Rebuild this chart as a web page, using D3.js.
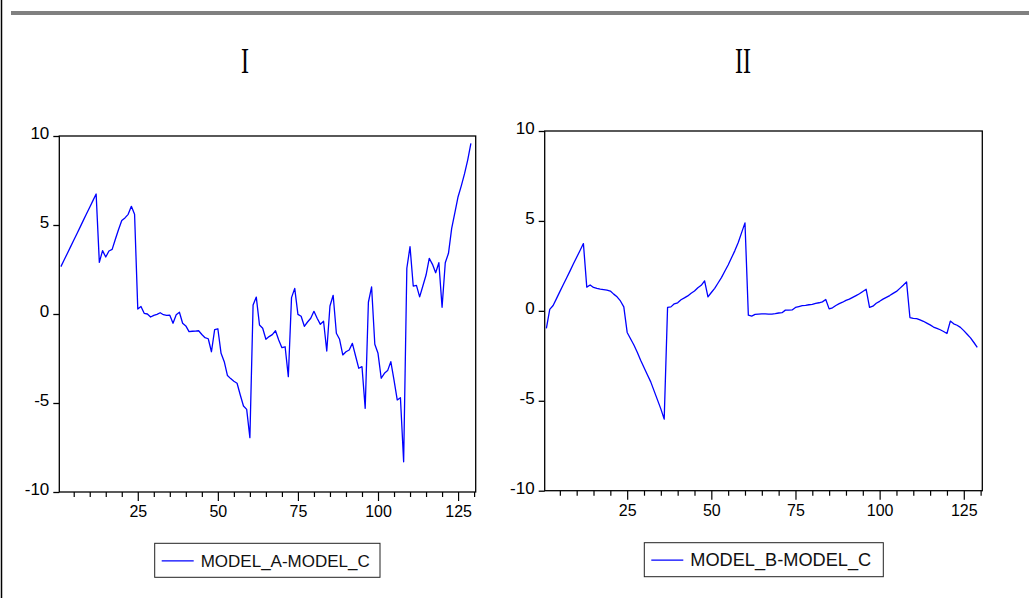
<!DOCTYPE html>
<html>
<head>
<meta charset="utf-8">
<script src="https://cdn.jsdelivr.net/npm/d3@7"></script>
<style>
body { margin: 0; background: #fff; }
svg { display: block; }
.tick text { font-family: "Liberation Sans", Arial, sans-serif; }
</style>
</head>
<body>
<svg id="chart" width="1029" height="598"></svg>
<script>
var width = 1029;
var height = 598;

// series I: MODEL_A-MODEL_C, obs 1..129
var seriesA = [
    2.66, 3.03, 3.40, 3.77, 4.14, 4.51, 4.88, 5.26, 5.63, 6.00,
    6.37, 6.74, 2.90, 3.56, 3.20, 3.54, 3.63, 4.20, 4.75, 5.25,
    5.40, 5.60, 6.05, 5.60, 0.28, 0.42, 0.04, 0.00, -0.17, -0.08,
    -0.02, 0.07, -0.04, -0.08, -0.07, -0.52, -0.04, 0.10, -0.52, -0.67,
    -0.99, -0.97, -0.96, -0.94, -1.15, -1.33, -1.39, -2.12, -0.88, -0.83,
    -2.21, -2.68, -3.46, -3.63, -3.78, -3.89, -4.55, -5.17, -5.36, -6.95,
    0.51, 0.95, -0.62, -0.80, -1.42, -1.27, -1.16, -0.94, -1.46, -1.89,
    -1.84, -3.52, 0.92, 1.44, -0.02, -0.13, -0.69, -0.45, -0.24, 0.15,
    -0.24, -0.58, -0.41, -2.08, 0.45, 1.05, -1.08, -1.42, -2.30, -2.12,
    -2.02, -1.65, -2.36, -3.05, -2.96, -5.30, 0.66, 1.52, -1.70, -2.21,
    -3.61, -3.33, -3.18, -2.68, -3.71, -4.83, -4.70, -8.30, 2.57, 3.78,
    1.57, 1.61, 0.96, 1.57, 2.19, 3.13, 2.79, 2.32, 2.88, 0.38,
    2.88, 3.41, 4.81, 5.70, 6.59, 7.20, 7.87, 8.65, 9.59
];

// series II: MODEL_B-MODEL_C, obs 1..129
var seriesB = [
    -0.98, 0.08, 0.30, 0.68, 1.07, 1.45, 1.83, 2.21, 2.60, 2.98,
    3.36, 3.74, 1.32, 1.44, 1.30, 1.25, 1.21, 1.18, 1.15, 1.10,
    0.93, 0.78, 0.55, 0.22, -1.20, -1.55, -1.90, -2.30, -2.75, -3.15,
    -3.55, -3.95, -4.45, -4.95, -5.45, -6.02, 0.19, 0.22, 0.39, 0.45,
    0.62, 0.72, 0.83, 0.98, 1.10, 1.28, 1.42, 1.67, 0.78, 1.02,
    1.25, 1.55, 1.85, 2.20, 2.55, 2.95, 3.35, 3.80, 4.35, 4.89,
    -0.24, -0.29, -0.20, -0.18, -0.17, -0.17, -0.18, -0.18, -0.16, -0.12,
    -0.10, 0.04, 0.04, 0.05, 0.19, 0.24, 0.29, 0.31, 0.34, 0.36,
    0.42, 0.45, 0.50, 0.63, 0.11, 0.17, 0.30, 0.40, 0.48, 0.58,
    0.65, 0.75, 0.85, 0.95, 1.08, 1.20, 0.19, 0.26, 0.42, 0.53,
    0.65, 0.75, 0.85, 0.97, 1.08, 1.25, 1.42, 1.61, -0.37, -0.42,
    -0.43, -0.50, -0.58, -0.68, -0.78, -0.90, -0.97, -1.05, -1.15, -1.26,
    -0.57, -0.72, -0.80, -0.92, -1.10, -1.30, -1.50, -1.76, -2.03
];

var yTicks = [-10, -5, 0, 5, 10];
var xTicks = d3.range(5, 131, 5);
var xLabels = [25, 50, 75, 100, 125];
var panelTitles = ['I', 'II'];
var legendNames = ['MODEL_A-MODEL_C', 'MODEL_B-MODEL_C'];

var panels = [
    { left: 59.3, right: 475.7, top: 136, bottom: 492, titleX: 245,
      legend: { x: 154.7, y: 543.3, w: 225.3, h: 34, fs: 17 }, data: seriesA },
    { left: 544.7, right: 982.3, top: 131, bottom: 490.7, titleX: 743,
      legend: { x: 644.3, y: 542.7, w: 239, h: 34, fs: 18.2 }, data: seriesB }
];

var svg = d3.select('#chart');

// frame bits
svg.append('line')
    .attr('x1', 1.5).attr('x2', 1.5)
    .attr('y1', 0).attr('y2', height)
    .attr('stroke', '#000').attr('stroke-width', 1.5);

svg.append('rect')
    .attr('x', 11).attr('y', 11)
    .attr('width', width - 11).attr('height', 4)
    .attr('fill', '#808080');

function drawPanel(p, i) {
    var x = d3.scaleLinear().domain([0.5, 130.5]).range([p.left, p.right]);
    var y = d3.scaleLinear().domain([-10, 10]).range([p.bottom, p.top]);

    var g = svg.append('g');

    // title
    g.append('text')
        .attr('transform', 'translate(' + p.titleX + ',73) scale(1,1.5)')
        .attr('text-anchor', 'middle')
        .style('font-family', '"Liberation Serif", "Times New Roman", serif')
        .style('font-size', '24px')
        .text(panelTitles[i]);

    // plot box
    g.append('rect')
        .attr('x', p.left).attr('y', p.top)
        .attr('width', p.right - p.left).attr('height', p.bottom - p.top)
        .attr('fill', 'none')
        .attr('stroke', '#000')
        .attr('stroke-width', 1.3);

    // y axis (plain hyphen for negatives, like the original)
    var yAxis = g.append('g')
        .attr('transform', 'translate(' + p.left + ',0)')
        .call(d3.axisLeft(y).tickValues(yTicks).tickSize(6).tickPadding(4)
            .tickFormat(function(d) { return String(d); }));
    yAxis.select('.domain').remove();
    yAxis.selectAll('.tick line').attr('stroke', '#000').attr('stroke-width', 1.3);
    yAxis.selectAll('.tick text')
        .style('font-size', '17px')
        .attr('fill', '#000')
        .attr('dy', '0.15em');

    // x axis
    var xAxis = g.append('g')
        .attr('transform', 'translate(0,' + p.bottom + ')')
        .call(d3.axisBottom(x).tickValues(xTicks).tickSize(5).tickPadding(6)
            .tickFormat(function(d) { return xLabels.indexOf(d) >= 0 ? String(d) : ''; }));
    xAxis.select('.domain').remove();
    xAxis.selectAll('.tick line')
        .attr('stroke', '#000')
        .attr('stroke-width', 1.2)
        .attr('y2', function(d) { return xLabels.indexOf(d) >= 0 ? 9 : 5; });
    xAxis.selectAll('.tick text')
        .style('font-size', '16px')
        .attr('fill', '#000')
        .attr('y', 14);

    // series line
    var line = d3.line()
        .x(function(d, k) { return x(k + 1); })
        .y(function(d) { return y(d); });

    g.append('path')
        .datum(p.data)
        .attr('d', line)
        .attr('fill', 'none')
        .attr('stroke', '#0000ff')
        .attr('stroke-width', 1.3)
        .attr('stroke-linejoin', 'round');

    // legend
    var lg = g.append('g');
    lg.append('rect')
        .attr('x', p.legend.x).attr('y', p.legend.y)
        .attr('width', p.legend.w).attr('height', p.legend.h)
        .attr('fill', '#fff')
        .attr('stroke', '#222')
        .attr('stroke-width', 1);
    lg.append('line')
        .attr('x1', p.legend.x + 7).attr('x2', p.legend.x + 39)
        .attr('y1', p.legend.y + 17.5).attr('y2', p.legend.y + 17.5)
        .attr('stroke', '#0000ff')
        .attr('stroke-width', 1.2);
    lg.append('text')
        .attr('x', p.legend.x + 46)
        .attr('y', p.legend.y + 23.5)
        .style('font-family', '"Liberation Sans", Arial, sans-serif')
        .style('font-size', p.legend.fs + 'px')
        .attr('fill', '#111')
        .text(legendNames[i]);
}

panels.forEach(drawPanel);
</script>
</body>
</html>
